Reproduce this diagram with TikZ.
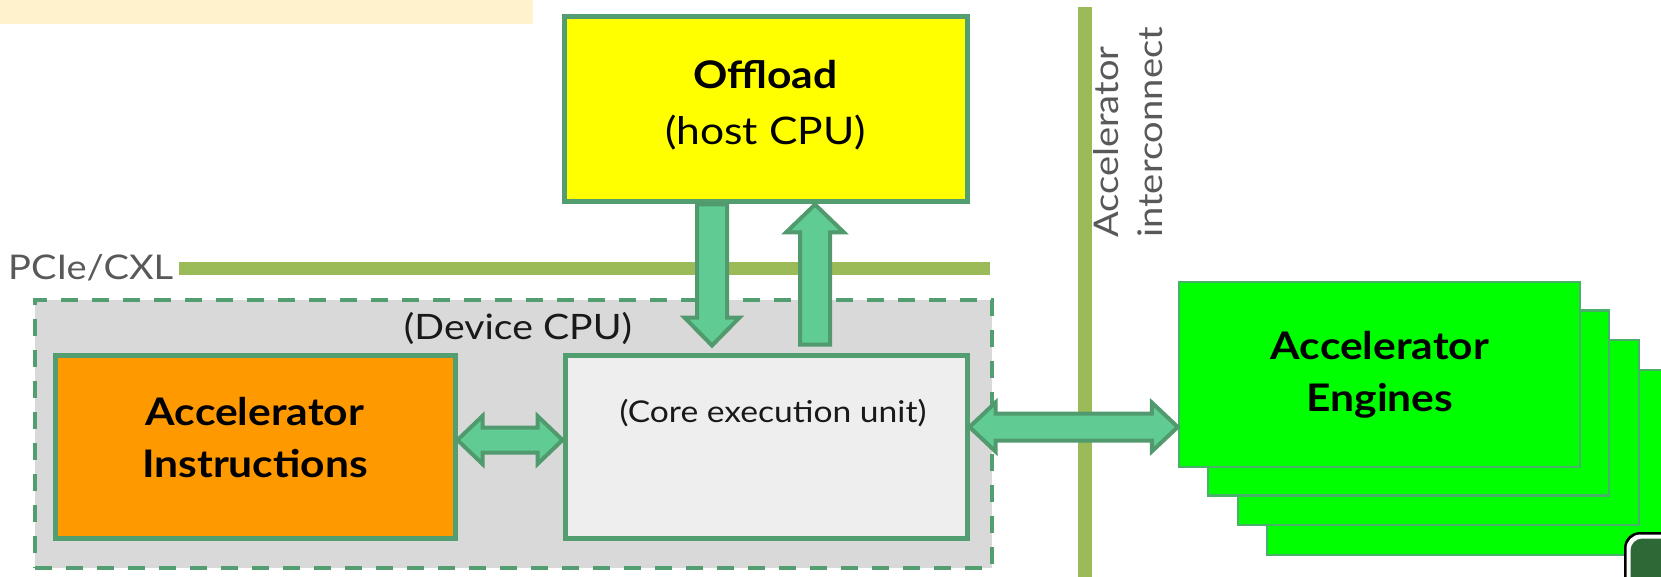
\documentclass[tikz,border=0pt]{standalone}
\usepackage{fontspec}
\setmainfont{Lato}[FakeStretch=1.12]
\usetikzlibrary{calc}
\definecolor{boxgreen}{RGB}{82,158,112}
\definecolor{arrowfill}{RGB}{96,204,148}
\definecolor{arrowline}{RGB}{80,154,110}
\definecolor{olive}{RGB}{155,187,89}
\definecolor{paleyellow}{RGB}{255,242,204}
\definecolor{orangebox}{RGB}{255,153,0}
\definecolor{devgray}{RGB}{217,217,217}
\definecolor{coregray}{RGB}{238,238,238}
\definecolor{enggreen}{RGB}{0,255,0}
\definecolor{engborder}{RGB}{72,176,104}
\definecolor{labelgray}{RGB}{89,89,89}
\definecolor{btngreen}{RGB}{45,104,54}
\definecolor{textdark}{RGB}{25,25,25}
\definecolor{hostyellow}{RGB}{255,255,0}
\begin{document}
\begin{tikzpicture}[x=1pt,y=-1pt,
  box/.style={draw=boxgreen, line width=5pt, inner sep=0pt, align=center},
  engbox/.style={draw=engborder, line width=2.5pt, fill=enggreen, inner sep=0pt,
    minimum width=401pt, minimum height=185pt},
  boldlabel/.style={font=\fontsize{38}{52}\selectfont\bfseries, text=black, align=center},
  fat/.style={draw=arrowline, fill=arrowfill, line width=4pt, line join=miter},
  bus/.style={draw=olive},
  graylabel/.style={font=\fontsize{34}{44}\selectfont, text=labelgray}
]
\useasboundingbox (0,0) rectangle (1661,577);
\clip (0,0) rectangle (1661,577);

% pale bar top left
\fill[paleyellow] (0,0) rectangle (533,24);

% PCIe/CXL bus
\node[graylabel, anchor=west, inner sep=0pt] (pcie) at (8,268) {PCIe/CXL};
\coordinate (pcieend) at (990,268);
\draw[bus, line width=13pt] ($(pcie.east)+(6,0)$) -- (pcieend);

% Accelerator interconnect
\coordinate (ictop) at (1085,7);
\coordinate (icbot) at (1085,590);
\draw[bus, line width=14pt] (ictop) -- (icbot);
\node[graylabel, rotate=90, align=left, anchor=north west, inner sep=0pt]
  (iclabel) at (1093,238) {Accelerator\\interconnect};

% Device CPU dashed region
\node[draw=boxgreen, line width=4pt, dash pattern=on 17pt off 14pt, fill=devgray,
  minimum width=957pt, minimum height=268pt, inner sep=0pt] (device) at (513.5,434) {};
\node[font=\fontsize{35}{40}\selectfont, text=textdark] (devlabel) at (518,328) {(Device CPU)};

% Offload box
\node[box, fill=hostyellow, minimum width=403pt, minimum height=185pt] (offload) at (765.5,109.5) {};
\node[font=\fontsize{38}{56}\selectfont, text=black, align=center] (offlabel) at (765.5,105)
  {\textbf{Offload}\\(host CPU)};

% Accelerator instructions
\node[box, fill=orangebox, minimum width=400pt, minimum height=183pt] (ai) at (255,446.5) {};
\node[boldlabel] (ailabel) at (255,438) {Accelerator\\Instructions};

% Core execution unit
\node[box, fill=coregray, minimum width=402pt, minimum height=183pt] (core) at (766,446.5) {};
\node[font=\fontsize{30}{36}\selectfont, text=textdark] (corelabel) at (773,413) {(Core execution unit)};

% Accelerator engines stack
\node[engbox] (e4) at (1467.5,462.5) {};
\node[engbox] (e3) at (1438.5,432.5) {};
\node[engbox] (e2) at (1408.5,403) {};
\node[engbox] (e1) at (1379.5,374.5) {};
\node[boldlabel] (e1label) at (1380,375) {Accelerator\\Engines};

% arrows
\coordinate (hA) at (0,440);
\draw[fat] let \p1=(ai.east), \p2=(core.west), \p3=(hA) in
  (\x1,\y3) -- (\x1+25pt,\y3+24pt) -- (\x1+25pt,\y3+12.5pt) -- (\x2-25pt,\y3+12.5pt)
  -- (\x2-25pt,\y3+24pt) -- (\x2,\y3) -- (\x2-25pt,\y3-24pt) -- (\x2-25pt,\y3-12.5pt)
  -- (\x1+25pt,\y3-12.5pt) -- (\x1+25pt,\y3-24pt) -- cycle;

\coordinate (hB) at (0,427);
\draw[fat] let \p1=(core.east), \p2=(e1.west), \p3=(hB) in
  (\x1,\y3) -- (\x1+26pt,\y3+24.5pt) -- (\x1+26pt,\y3+13.5pt) -- (\x2-26pt,\y3+13.5pt)
  -- (\x2-26pt,\y3+24.5pt) -- (\x2,\y3) -- (\x2-26pt,\y3-24.5pt) -- (\x2-26pt,\y3-13.5pt)
  -- (\x1+26pt,\y3-13.5pt) -- (\x1+26pt,\y3-24.5pt) -- cycle;

\coordinate (vA) at (712,0);
\draw[fat] let \p1=(offload.south), \p2=(core.north), \p3=(vA) in
  (\x3-15pt,\y1) -- (\x3+15pt,\y1) -- (\x3+15pt,\y2+35pt) -- (\x3+27.5pt,\y2+35pt)
  -- (\x3,\y2+7pt) -- (\x3-27.5pt,\y2+35pt) -- (\x3-15pt,\y2+35pt) -- cycle;

\coordinate (vB) at (815,0);
\draw[fat] let \p1=(offload.south), \p2=(core.north), \p3=(vB) in
  (\x3,\y1) -- (\x3+29pt,\y1-28pt) -- (\x3+15pt,\y1-28pt) -- (\x3+15pt,\y2+8pt)
  -- (\x3-15pt,\y2+8pt) -- (\x3-15pt,\y1-28pt) -- (\x3-29pt,\y1-28pt) -- cycle;

% bottom-right button fragment
\fill[black, rounded corners=16pt] (1624,532) rectangle (1720,640);
\fill[white, rounded corners=14pt] (1626.5,534.5) rectangle (1720,640);
\fill[btngreen, rounded corners=12pt] (1630.5,538.5) rectangle (1720,640);
\end{tikzpicture}
\end{document}
